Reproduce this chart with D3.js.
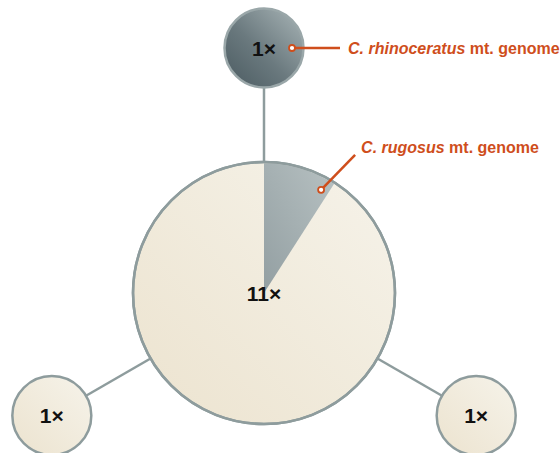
<!DOCTYPE html>
<html>
<head>
<meta charset="utf-8">
<script src="https://cdn.jsdelivr.net/npm/d3@7"></script>
<style>
  html, body { margin: 0; padding: 0; background: #ffffff; }
  svg { display: block; font-family: "Liberation Sans", Arial, Helvetica, sans-serif; }
</style>
</head>
<body>
<svg id="chart" width="560" height="453"></svg>
<script>
// ---- data ----
const nodeIds     = ["hub", "rhino", "left", "right"];
const nodeCounts  = [11, 1, 1, 1];
const nodeLabels  = ["11×", "1×", "1×", "1×"];
const edgeSources = ["hub", "hub", "hub"];
const edgeTargets = ["rhino", "left", "right"];
// composition of the hub haplotype: [C. rugosus mt. genome, other]
const hubParts    = [1, 10];
const annoText1   = ["C. rhinoceratus", " mt. genome"];
const annoText2   = ["C. rugosus", " mt. genome"];

// ---- layout ----
const svg = d3.select("#chart");
const cx = 264, cy = 293, dist = 245;
const rScale = d3.scaleSqrt().domain([0, 11]).range([0, 131]);
const angleOf = { hub: null, rhino: 0, left: -120, right: 120 }; // degrees clockwise from top

const nodes = nodeIds.map((id, i) => {
  const a = angleOf[id];
  const x = a === null ? cx : cx + dist * Math.sin(a * Math.PI / 180);
  const y = a === null ? cy : cy - dist * Math.cos(a * Math.PI / 180);
  return { id, count: nodeCounts[i], label: nodeLabels[i], x, y, r: rScale(nodeCounts[i]) };
});
const byId = Object.fromEntries(nodes.map(n => [n.id, n]));

// ---- gradients ----
const defs = svg.append("defs");
function lin(id, stops) {
  const g = defs.append("linearGradient").attr("id", id)
    .attr("x1", "100%").attr("y1", "0%").attr("x2", "0%").attr("y2", "100%");
  stops.forEach(([o, c]) => g.append("stop").attr("offset", o).attr("stop-color", c));
}
lin("cream", [["0%", "#f6f3ea"], ["100%", "#ece3cf"]]);
lin("dark",  [["0%", "#aab6b8"], ["55%", "#6a797e"], ["100%", "#4a5a60"]]);
lin("slice", [["0%", "#b7c1c2"], ["100%", "#939fa2"]]);

const strokeCol = "#8e9c9d";
const orange = "#cf4e1c";

// ---- edges ----
svg.append("g").selectAll("line")
  .data(edgeSources.map((s, i) => ({ s: byId[s], t: byId[edgeTargets[i]] })))
  .join("line")
  .attr("x1", d => d.s.x).attr("y1", d => d.s.y)
  .attr("x2", d => d.t.x).attr("y2", d => d.t.y)
  .attr("stroke", strokeCol).attr("stroke-width", 2.5);

// ---- nodes ----
const ng = svg.append("g").selectAll("g").data(nodes).join("g")
  .attr("transform", d => `translate(${d.x},${d.y})`);

ng.append("circle")
  .attr("r", d => d.r)
  .attr("fill", d => d.id === "rhino" ? "url(#dark)" : "url(#cream)")
  .attr("stroke", d => d.id === "rhino" ? "#9aa7a9" : strokeCol)
  .attr("stroke-width", 2.5);

// pie slice in hub
const hub = byId.hub;
const pie = d3.pie().sort(null).value(d => d)(hubParts);
const arc = d3.arc().innerRadius(0).outerRadius(hub.r - 1.25);
svg.append("path")
  .attr("transform", `translate(${hub.x},${hub.y})`)
  .attr("d", arc(pie[0]))
  .attr("fill", "url(#slice)");
// redraw hub outline on top
svg.append("circle").attr("cx", hub.x).attr("cy", hub.y).attr("r", hub.r)
  .attr("fill", "none").attr("stroke", strokeCol).attr("stroke-width", 2.5);

// labels
svg.append("g").selectAll("text").data(nodes).join("text")
  .attr("x", d => d.x).attr("y", d => d.y + 7.5)
  .attr("text-anchor", "middle")
  .attr("font-size", 21).attr("font-weight", "bold").attr("fill", "#111")
  .text(d => d.label);

// ---- annotations ----
function annotate(dot, end, textPos, parts) {
  const g = svg.append("g");
  g.append("line").attr("x1", dot[0]).attr("y1", dot[1]).attr("x2", end[0]).attr("y2", end[1])
    .attr("stroke", orange).attr("stroke-width", 2.5);
  g.append("circle").attr("cx", dot[0]).attr("cy", dot[1]).attr("r", 3)
    .attr("fill", "#ffffff").attr("stroke", orange).attr("stroke-width", 1.8);
  const t = g.append("text").attr("x", textPos[0]).attr("y", textPos[1])
    .attr("font-size", 16).attr("font-weight", "bold").attr("fill", orange);
  t.append("tspan").attr("font-style", "italic").text(parts[0]);
  t.append("tspan").text(parts[1]);
}
const rh = byId.rhino;
annotate([rh.x + 28, rh.y], [rh.x + 76, rh.y], [rh.x + 84, rh.y + 6], annoText1);

const midA = (pie[0].startAngle + pie[0].endAngle) / 2 + 0.22;
const dotR = hub.r * 0.9;
const d2 = [hub.x + dotR * Math.sin(midA), hub.y - dotR * Math.cos(midA)];
annotate(d2, [d2[0] + 34, d2[1] - 35], [d2[0] + 40, d2[1] - 37], annoText2);
</script>
</body>
</html>
